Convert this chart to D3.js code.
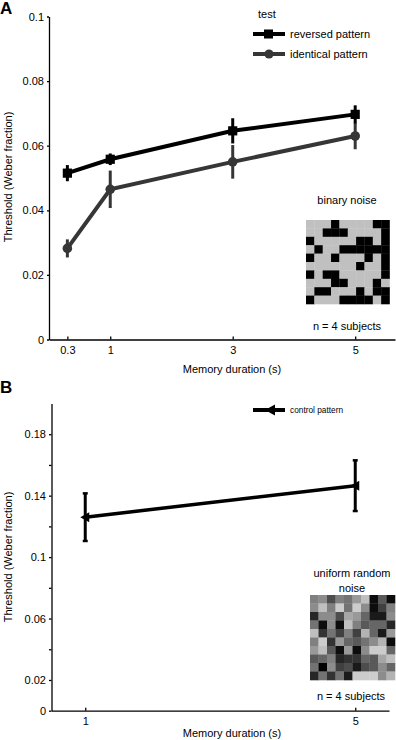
<!DOCTYPE html>
<html>
<head>
<meta charset="utf-8">
<style>
  body { margin: 0; background: #fff; }
  text { font-family: "Liberation Sans", Arial, Helvetica, sans-serif; fill: #000; }
  .axis path, .axis line { stroke: #000; stroke-width: 1.3; }
  .axis text { font-size: 11px; }
</style>
</head>
<body>
<div id="chart"></div>

<script src="https://d3js.org/d3.v7.min.js"></script>

<script>
    // ---- panel A data (binary noise) ----
    var durationsA = [0.3, 1, 3, 5];
    var reversed = [0.0515, 0.0558, 0.0646, 0.0697];
    var reversedErr = [0.0025, 0.0018, 0.0039, 0.0028];
    var identical = [0.0282, 0.0465, 0.055, 0.063];
    var identicalErr = [0.0028, 0.0058, 0.0052, 0.0041];
    var yTicksA = [0, 0.02, 0.04, 0.06, 0.08, 0.1];
    var xTicksA = [0.3, 1, 3, 5];

    // ---- panel B data (uniform random noise) ----
    var durationsB = [1, 5];
    var control = [0.126, 0.1465];
    var controlErr = [0.0155, 0.0165];
    var yTicksB = [0, 0.02, 0.04, 0.06, 0.08, 0.1, 0.12, 0.14, 0.16, 0.18];
    var yLabelsB = [0, 0.02, 0.06, 0.1, 0.14, 0.18];
    var xTicksB = [1, 5];

    // example stimuli (1 = black)
    var binaryNoise = [
      "0001000011",
      "0011100001",
      "1000001101",
      "0100111111",
      "1001000101",
      "0000001001",
      "1011000001",
      "0001100010",
      "0110001011",
      "1000111101"
    ];
    // brightness 0 (black) .. 1 (white)
    var uniformNoise = [
      [0.5, 0.55, 0.3, 0.5, 0.45, 0.6, 0.75, 0.05, 0.35, 0.05],
      [0.55, 0.75, 0.5, 0.8, 0.45, 0.8, 0.55, 0.05, 0.25, 0.5],
      [0.15, 0.55, 0.55, 0.3, 0.65, 0.6, 0.4, 0.1, 0.1, 0.55],
      [0.45, 0.05, 0.55, 0.05, 0.75, 0.5, 0.35, 0.4, 0.4, 0.15],
      [0.75, 0.2, 0.45, 0.25, 0.5, 0.25, 0.7, 0.4, 0.1, 0.6],
      [0.5, 0.8, 0.2, 0.6, 0.4, 0.35, 0.45, 0.55, 0.7, 0.05],
      [0.6, 0.75, 0.35, 0.05, 0.6, 0.05, 0.55, 0.8, 0.8, 0.4],
      [0.35, 0.4, 0.5, 0.15, 0.2, 0.2, 0.4, 0.35, 0.65, 0.75],
      [0.45, 0.0, 0.55, 0.25, 0.3, 0.1, 0.3, 0.35, 0.55, 0.4],
      [0.15, 0.45, 0.2, 0.45, 0.1, 0.8, 0.8, 0.8, 0.55, 0.7]
    ];

    var svg = d3.select("#chart").append("svg")
        .attr("width", 396)
        .attr("height", 740);

    var grey = "#363636";

    // ================= panel A =================
    var xA = d3.scaleLinear().domain([0, 5.65]).range([49, 395]);
    var yA = d3.scaleLinear().domain([0, 0.1]).range([339.5, 16.5]);

    svg.append("g").attr("class", "axis")
        .attr("transform", "translate(49,0)")
        .call(d3.axisLeft(yA).tickValues(yTicksA).tickSize(2).tickSizeOuter(0).tickPadding(3)
            .tickFormat(function(d){ return d3.format("~g")(d); }));

    svg.append("g").attr("class", "axis")
        .attr("transform", "translate(0,339.5)")
        .call(d3.axisBottom(xA).tickValues(xTicksA).tickSize(-3).tickSizeOuter(0).tickPadding(7)
            .tickFormat(d3.format("~g")));

    svg.append("text").attr("x", 0).attr("y", 14)
        .style("font-size", "17px").style("font-weight", "bold").text("A");

    svg.append("text")
        .attr("transform", "translate(12,177) rotate(-90)")
        .attr("text-anchor", "middle").style("font-size", "11px")
        .text("Threshold (Weber fraction)");

    svg.append("text").attr("x", 232).attr("y", 373)
        .attr("text-anchor", "middle").style("font-size", "11px")
        .text("Memory duration (s)");

    function drawSeries(g, xs, ys, errs, x, y, color, width) {
      var line = d3.line().x(function(d, i){ return x(xs[i]); }).y(function(d){ return y(d); });
      g.append("path").datum(ys)
          .attr("d", line).attr("fill", "none")
          .attr("stroke", color).attr("stroke-width", width);
      g.selectAll("line.err").data(ys).enter().append("line")
          .attr("class", "err")
          .attr("x1", function(d, i){ return x(xs[i]); })
          .attr("x2", function(d, i){ return x(xs[i]); })
          .attr("y1", function(d, i){ return y(d - errs[i]); })
          .attr("y2", function(d, i){ return y(d + errs[i]); })
          .attr("stroke", color).attr("stroke-width", 3);
    }

    var gIdent = svg.append("g");
    drawSeries(gIdent, durationsA, identical, identicalErr, xA, yA, grey, 4);
    gIdent.selectAll("circle").data(identical).enter().append("circle")
        .attr("cx", function(d, i){ return xA(durationsA[i]); })
        .attr("cy", function(d){ return yA(d); })
        .attr("r", 4.8).attr("fill", grey);

    var gRev = svg.append("g");
    drawSeries(gRev, durationsA, reversed, reversedErr, xA, yA, "#000", 4);
    gRev.selectAll("rect").data(reversed).enter().append("rect")
        .attr("x", function(d, i){ return xA(durationsA[i]) - 4.6; })
        .attr("y", function(d){ return yA(d) - 4.6; })
        .attr("width", 9.2).attr("height", 9.2).attr("fill", "#000");

    // legend A
    var legA = svg.append("g");
    legA.append("text").attr("x", 258).attr("y", 18).style("font-size", "11px").text("test");
    legA.append("line").attr("x1", 253).attr("x2", 285).attr("y1", 34).attr("y2", 34)
        .attr("stroke", "#000").attr("stroke-width", 4);
    legA.append("rect").attr("x", 264).attr("y", 29.5).attr("width", 9).attr("height", 9).attr("fill", "#000");
    legA.append("text").attr("x", 290).attr("y", 38).style("font-size", "11px").text("reversed pattern");
    legA.append("line").attr("x1", 253).attr("x2", 285).attr("y1", 54).attr("y2", 54)
        .attr("stroke", grey).attr("stroke-width", 4);
    legA.append("circle").attr("cx", 269).attr("cy", 54).attr("r", 4.6).attr("fill", grey);
    legA.append("text").attr("x", 290).attr("y", 58).style("font-size", "11px").text("identical pattern");

    // binary noise inset
    svg.append("text").attr("x", 347).attr("y", 204).attr("text-anchor", "middle")
        .style("font-size", "11px").text("binary noise");
    var bx = d3.scaleBand().domain(d3.range(10)).range([306, 389.5]);
    var by = d3.scaleBand().domain(d3.range(10)).range([220, 304]);
    binaryNoise.forEach(function(row, r) {
      svg.append("g").selectAll("rect").data(row.split("")).enter().append("rect")
          .attr("x", function(d, c){ return bx(c); })
          .attr("y", by(r))
          .attr("width", bx.bandwidth() + 0.3).attr("height", by.bandwidth() + 0.3)
          .attr("fill", function(d){ return d === "1" ? "#000" : "#c0c0c0"; });
    });
    svg.append("text").attr("x", 347).attr("y", 330).attr("text-anchor", "middle")
        .style("font-size", "11px").text("n = 4 subjects");

    // ================= panel B =================
    var xB = d3.scaleLinear().domain([0.5, 5.5]).range([51.5, 389]);
    var yB = d3.scaleLinear().domain([0, 0.2]).range([710.7, 403.5]);

    svg.append("g").attr("class", "axis")
        .attr("transform", "translate(51.5,0)")
        .call(d3.axisLeft(yB).tickValues(yTicksB).tickSize(2.5).tickSizeOuter(0).tickPadding(3)
            .tickFormat(function(d){
              return yLabelsB.some(function(v){ return Math.abs(v - d) < 1e-9; }) ? d3.format("~g")(d) : "";
            }));

    svg.append("g").attr("class", "axis")
        .attr("transform", "translate(0,710.7)")
        .call(d3.axisBottom(xB).tickValues(xTicksB).tickSize(-3).tickSizeOuter(0).tickPadding(7)
            .tickFormat(d3.format("~g")));

    svg.append("text").attr("x", 0).attr("y", 393)
        .style("font-size", "17px").style("font-weight", "bold").text("B");

    svg.append("text")
        .attr("transform", "translate(12,557) rotate(-90)")
        .attr("text-anchor", "middle").style("font-size", "11px")
        .text("Threshold (Weber fraction)");

    svg.append("text").attr("x", 232).attr("y", 737)
        .attr("text-anchor", "middle").style("font-size", "11px")
        .text("Memory duration (s)");

    var gCtrl = svg.append("g");
    drawSeries(gCtrl, durationsB, control, controlErr, xB, yB, "#000", 3.5);
    // error bar caps
    gCtrl.selectAll("line.cap").data(control.concat(control)).enter().append("line")
        .attr("class", "cap")
        .attr("x1", function(d, i){ return xB(durationsB[i % 2]) - 2.5; })
        .attr("x2", function(d, i){ return xB(durationsB[i % 2]) + 2.5; })
        .attr("y1", function(d, i){ var k = i % 2; return yB(i < 2 ? d + controlErr[k] : d - controlErr[k]); })
        .attr("y2", function(d, i){ var k = i % 2; return yB(i < 2 ? d + controlErr[k] : d - controlErr[k]); })
        .attr("stroke", "#000").attr("stroke-width", 2.5);
    // left-pointing triangle markers
    var tri = "M-5,0 L4,-5 L4,5 Z";
    gCtrl.selectAll("path.mk").data(control).enter().append("path")
        .attr("class", "mk")
        .attr("transform", function(d, i){ return "translate(" + xB(durationsB[i]) + "," + yB(d) + ")"; })
        .attr("d", tri).attr("fill", "#000");

    // legend B
    svg.append("line").attr("x1", 253).attr("x2", 285).attr("y1", 410).attr("y2", 410)
        .attr("stroke", "#000").attr("stroke-width", 4);
    svg.append("path").attr("transform", "translate(270,410)").attr("d", "M-5,0 L5,-5.5 L5,5.5 Z").attr("fill", "#000");
    svg.append("text").attr("x", 290).attr("y", 413).style("font-size", "8.3px").text("control pattern");

    // uniform noise inset
    svg.append("text").attr("x", 352).attr("y", 577).attr("text-anchor", "middle")
        .style("font-size", "11px").text("uniform random");
    svg.append("text").attr("x", 352).attr("y", 592).attr("text-anchor", "middle")
        .style("font-size", "11px").text("noise");
    var ux = d3.scaleBand().domain(d3.range(10)).range([310, 395]);
    var uy = d3.scaleBand().domain(d3.range(10)).range([595, 680]);
    uniformNoise.forEach(function(row, r) {
      svg.append("g").selectAll("rect").data(row).enter().append("rect")
          .attr("x", function(d, c){ return ux(c); })
          .attr("y", uy(r))
          .attr("width", ux.bandwidth() + 0.3).attr("height", uy.bandwidth() + 0.3)
          .attr("fill", function(d){ var v = Math.round(d * 255); return "rgb(" + v + "," + v + "," + v + ")"; });
    });
    svg.append("text").attr("x", 351).attr("y", 700).attr("text-anchor", "middle")
        .style("font-size", "11px").text("n = 4 subjects");
</script>
</body>
</html>
